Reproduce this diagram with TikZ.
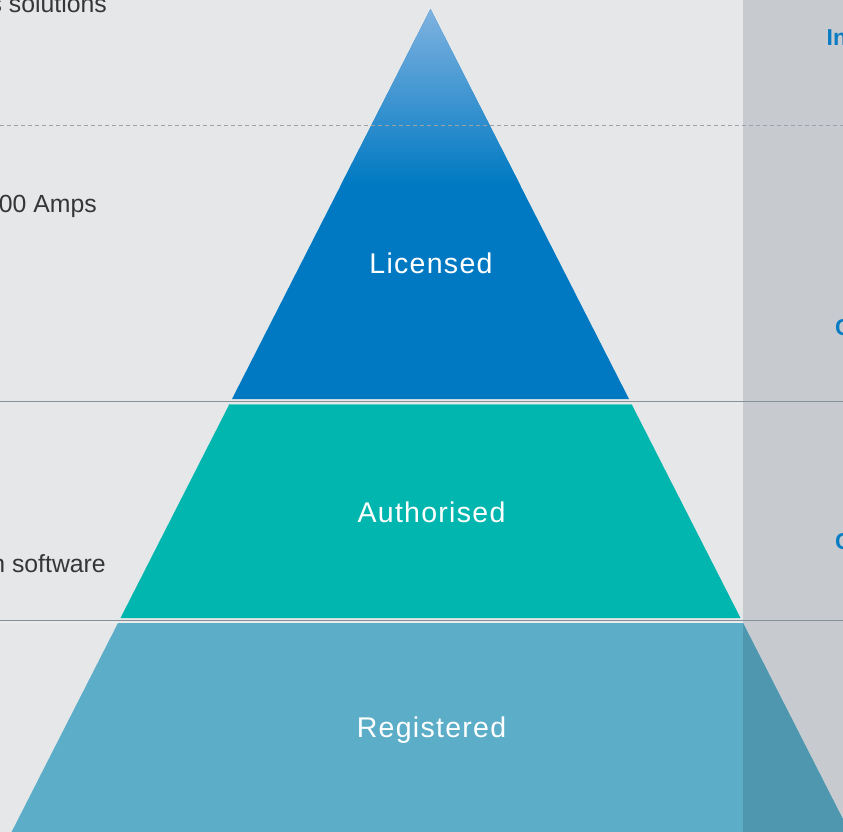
\documentclass[tikz,border=0pt]{standalone}
\usepackage{fontspec}
\setmainfont{Liberation Sans}
\newfontfamily\tierfont[LetterSpace=4.5]{Liberation Sans}
\definecolor{bg}{HTML}{E6E7E9}
\definecolor{panel}{HTML}{C7CBCF}
\definecolor{licblue}{HTML}{0079C2}
\definecolor{lictop}{HTML}{7FB2E0}
\definecolor{tealc}{HTML}{00B6AE}
\definecolor{regblue}{HTML}{5BADC8}
\definecolor{regdark}{HTML}{4E97AE}
\definecolor{linegrey}{HTML}{87919A}
\definecolor{dashgrey}{HTML}{9CA2A7}
\definecolor{txtgrey}{HTML}{363636}
\definecolor{tagblue}{HTML}{0A7CC4}
\begin{document}
\begin{tikzpicture}[x=1pt,y=-1pt,
  tier/.style={font=\tierfont\fontsize{28.5}{32}\selectfont, text=white, inner sep=0pt, anchor=base},
  side/.style={font=\fontsize{24.8}{28}\selectfont, text=txtgrey, anchor=base east, inner sep=0pt},
  tag/.style={font=\bfseries\fontsize{23}{26}\selectfont, text=tagblue, anchor=base west, inner sep=0pt},
  sep/.style={draw=linegrey, line width=1.2pt},
  dashsep/.style={draw=dashgrey, line width=1pt, dash pattern=on 4pt off 3pt}]
\useasboundingbox (0,0) rectangle (843,832);
\clip (0,0) rectangle (843,832);
% background and right panel
\fill[bg] (0,0) rectangle (843,832);
\fill[panel] (743,0) rectangle (843,832);
% Licensed triangle with gradient top
\begin{scope}
  \clip (430.5,9) -- (629,399) -- (232,399) -- cycle;
  \fill[licblue] (200,0) rectangle (660,400);
  \shade[top color=lictop, bottom color=licblue] (200,9) rectangle (660,185);
\end{scope}
% Authorised trapezoid
\fill[tealc] (229.5,404) -- (631.5,404) -- (740.5,618) -- (120.5,618) -- cycle;
\draw[white, opacity=0.35, line width=0.8pt] (229.5,404.4) -- (631.5,404.4);
% Registered trapezoid
\fill[regblue] (118,623) -- (743,623) -- (853.5,840) -- (7.5,840) -- cycle;
\begin{scope}
  \clip (743,600) rectangle (843,832);
  \fill[regdark] (118,623) -- (743,623) -- (853.5,840) -- (7.5,840) -- cycle;
\end{scope}
\draw[white, opacity=0.35, line width=0.8pt] (0,622.6) -- (743,622.6);
% separators
\draw[dashsep] (0,126) -- (843,126);
\draw[sep] (0,401.5) -- (843,401.5);
\draw[sep] (0,620.5) -- (843,620.5);
% tier labels
\node[tier] (lic) at (431,273.5) {Licensed};
\node[tier] (aut) at (431.5,522) {Authorised};
\node[tier] (reg) at (431.5,737) {Registered};
% left descriptions (cut at the left edge)
\node[side] (d1) at (107,13) {s solutions};
\node[side] (d2) at (97,212) {00 Amps};
\node[side] (d3) at (106,572) {n software};
% right tags (cut at the right edge)
\node[tag] (t1) at (826.5,45.5) {In};
\node[tag] (t2) at (835,335) {C};
\node[tag] (t3) at (835,549) {C};
\end{tikzpicture}
\end{document}
